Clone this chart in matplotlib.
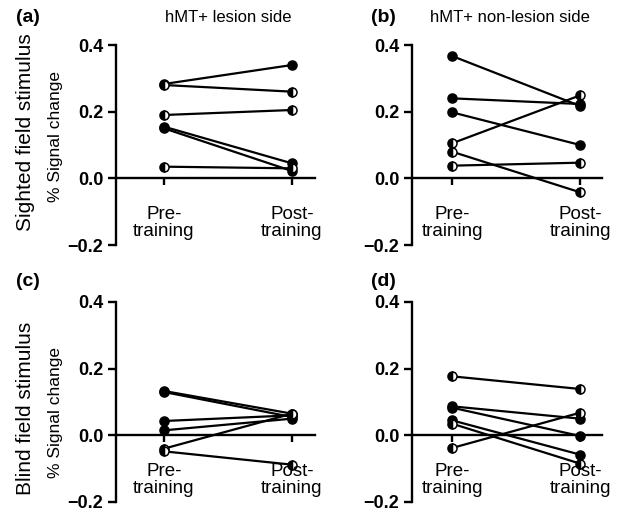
import numpy as np
import matplotlib
matplotlib.use('Agg')
import matplotlib.pyplot as plt

plt.rcParams['font.family'] = ['Liberation Sans', 'DejaVu Sans']

# datos (pre / post por sujeto)
conditions = ['Pre-\ntraining', 'Post-\ntraining']
yticks = [-0.2, 0.0, 0.2, 0.4]
ytick_labels = ['\u22120.2', '0.0', '0.2', '0.4']

a_pre = [0.283, 0.280, 0.190, 0.155, 0.150, 0.035]
a_post = [0.340, 0.260, 0.205, 0.045, 0.022, 0.030]
a_half = [False, True, True, False, False, True]

b_pre = [0.367, 0.240, 0.198, 0.105, 0.080, 0.038]
b_post = [0.217, 0.223, 0.100, 0.249, -0.042, 0.047]
b_half = [False, False, False, True, True, True]

c_pre = [0.133, 0.130, 0.043, 0.015, -0.040, -0.048]
c_post = [0.065, 0.055, 0.060, 0.050, 0.065, -0.088]
c_half = [False, False, False, False, True, True]

d_pre = [0.177, 0.087, 0.083, 0.045, 0.035, -0.038]
d_post = [0.139, 0.050, -0.002, -0.058, -0.085, 0.068]
d_half = [True, False, False, False, True, True]

titles = ['hMT+ lesion side', 'hMT+ non-lesion side']
row_labels = ['Sighted field stimulus', 'Blind field stimulus']
panel_tags = ['(a)', '(b)', '(c)', '(d)']

W, H = 621, 529
fig = plt.figure(figsize=(W / 100, H / 100), dpi=100)


def px_axes(left, right, top, bottom):
    return fig.add_axes([left / W, 1 - bottom / H, (right - left) / W, (bottom - top) / H])


def draw_panel(ax, pre, post, half, xmin, xmax):
    for p0, p1, h in zip(pre, post, half):
        kw = dict(color='black', lw=1.6, marker='o', ms=6.5, mec='black', mew=1.1)
        if h:
            kw.update(mfc='black', mfcalt='white', fillstyle='left')
        else:
            kw.update(mfc='black')
        ax.plot([0, 1], [p0, p1], **kw, zorder=3, clip_on=False)
    ax.set_xlim(xmin, xmax)
    ax.set_ylim(-0.2, 0.4)
    ax.spines['top'].set_visible(False)
    ax.spines['right'].set_visible(False)
    ax.spines['bottom'].set_position(('data', 0))
    for s in ('left', 'bottom'):
        ax.spines[s].set_linewidth(1.7)
    ax.set_yticks(yticks)
    ax.set_yticklabels(ytick_labels, fontsize=13, fontweight='bold')
    ax.set_xticks([0, 1])
    ax.set_xticklabels([])
    ax.tick_params(axis='y', direction='out', length=6, width=1.7, pad=3)
    ax.tick_params(axis='x', direction='out', length=5, width=1.7)
    for i, lab in enumerate(conditions):
        ax.text(i, -0.135, lab, ha='center', va='center', fontsize=13.5,
                linespacing=1.0)


ax_a = px_axes(116, 315, 45, 245)
ax_b = px_axes(412, 602, 45, 245)
ax_c = px_axes(116, 315, 302, 502)
ax_d = px_axes(412, 602, 302, 502)

draw_panel(ax_a, a_pre, a_post, a_half, -0.375, 1.18)
draw_panel(ax_b, b_pre, b_post, b_half, -0.3125, 1.17)
draw_panel(ax_c, c_pre, c_post, c_half, -0.375, 1.18)
draw_panel(ax_d, d_pre, d_post, d_half, -0.3125, 1.17)

# textos de la figura
fig.text(228 / W, 1 - 17 / H, titles[0], ha='center', va='center', fontsize=12)
fig.text(510 / W, 1 - 17 / H, titles[1], ha='center', va='center', fontsize=12)

for tag, (x, y) in zip(panel_tags, [(28, 17), (383, 17), (28, 281), (383, 281)]):
    fig.text(x / W, 1 - y / H, tag, ha='center', va='center', fontsize=14, fontweight='bold')

for lab, yc in zip(row_labels, [132, 408]):
    fig.text(26 / W, 1 - yc / H, lab, ha='center', va='center', rotation=90, fontsize=15)
    fig.text(56 / W, 1 - (yc + 5) / H, '% Signal change', ha='center', va='center',
             rotation=90, fontsize=12.5)

fig.savefig('out.png', dpi=100)
